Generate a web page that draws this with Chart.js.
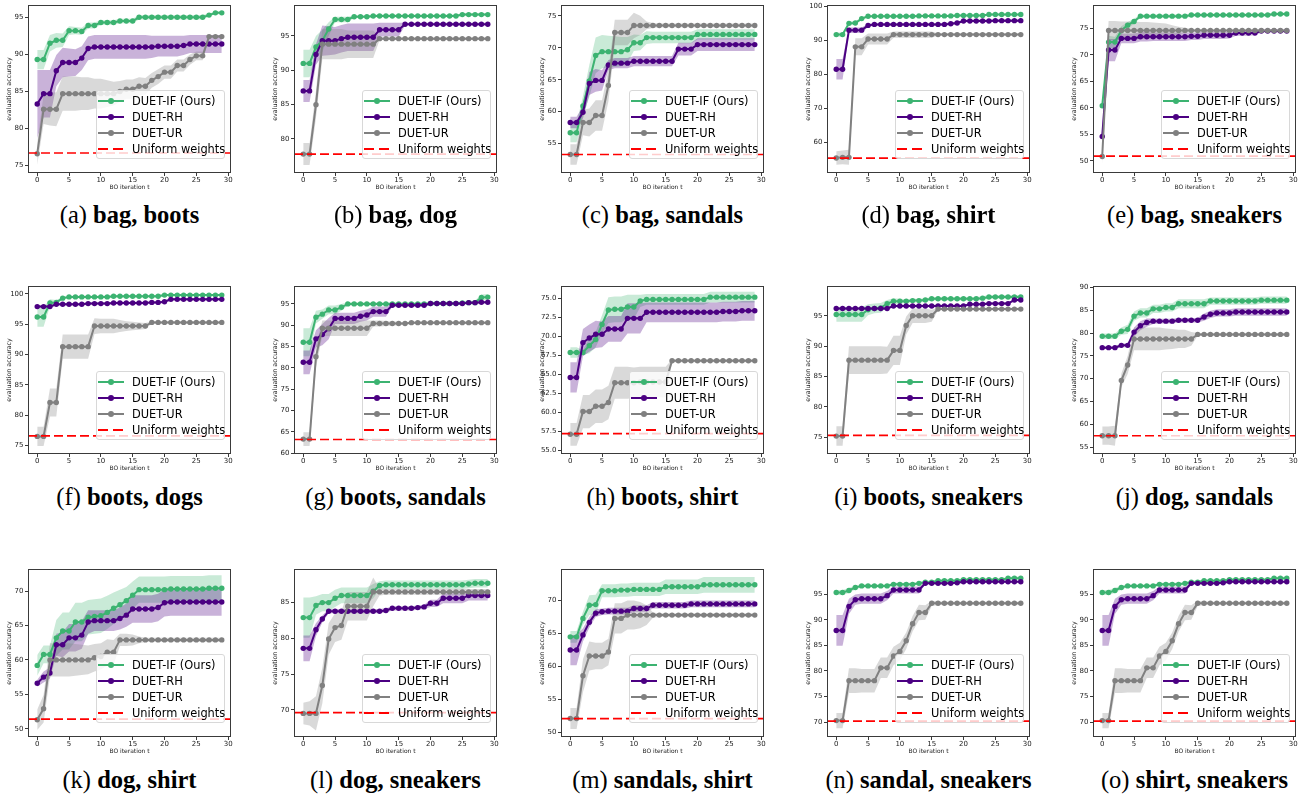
<!DOCTYPE html>
<html><head><meta charset="utf-8">
<script src="https://cdn.jsdelivr.net/npm/chart.js@4.4.0/dist/chart.umd.min.js"></script>
<style>
body{margin:0;background:#fff;width:1300px;height:795px;position:relative;overflow:hidden;font-family:'DejaVu Sans',sans-serif;}
canvas{position:absolute;}
.cap{position:absolute;font-family:'Liberation Serif',serif;font-size:24.5px;line-height:30px;white-space:nowrap;transform:translateX(-50%);color:#000;}
.cap b{font-weight:bold;}
.leg{position:absolute;width:129px;height:69px;border:1px solid #d8d8d8;border-radius:3px;background:rgba(255,255,255,0.8);box-sizing:border-box;font-family:'DejaVu Sans',sans-serif;font-size:11.4px;color:#000;}
.leg .row{position:absolute;left:1px;height:16px;display:flex;align-items:center;white-space:nowrap;}
.leg svg{margin-right:8px;display:block;}
</style></head><body>
<script>
// ---------- data ----------
const iters = [0,1,2,3,4,5,6,7,8,9,10,11,12,13,14,15,16,17,18,19,20,21,22,23,24,25,26,27,28,29];
const xTicks = [0,5,10,15,20,25,30];

// (a) bag, boots
const a_IF = [89.3,89.3,91.5,91.9,91.9,93.2,93.2,93.1,93.9,93.9,94.3,94.3,94.3,94.5,94.5,94.5,95.0,95.0,95.0,95.0,95.0,95.0,95.0,95.0,95.0,95.0,95.0,95.3,95.6,95.6];
const a_IF_sd = [1.3,1.3,1.1,1.0,0.9,0.6,0.5,0.5,0.4,0.4,0.3,0.3,0.3,0.3,0.3,0.3,0.3,0.3,0.3,0.3,0.3,0.3,0.3,0.3,0.3,0.3,0.3,0.2,0.2,0.2];
const a_RH = [83.3,84.7,84.7,87.8,88.9,88.9,88.9,89.5,90.8,91.0,91.0,91.0,91.0,91.0,91.0,91.0,91.0,91.0,91.0,91.1,91.1,91.1,91.1,91.2,91.4,91.4,91.4,91.4,91.4,91.4];
const a_RH_sd = [4.6,3.2,3.2,2.1,2.0,1.9,1.8,1.6,1.6,1.6,1.6,1.6,1.6,1.6,1.6,1.6,1.6,1.6,1.5,1.4,1.4,1.4,1.4,1.3,1.2,1.2,1.2,1.2,1.2,1.2];
const a_UR = [76.6,82.6,82.6,82.6,84.7,84.7,84.7,84.7,84.7,84.7,84.7,84.7,84.7,85.0,85.3,85.3,85.7,85.7,86.5,87.0,87.6,87.6,88.5,88.5,89.3,89.8,89.8,92.4,92.4,92.4];
const a_UR_sd = [1.5,2.0,2.2,2.3,2.3,2.3,2.3,2.2,2.2,2.0,2.0,1.8,1.6,1.4,1.3,1.3,1.2,1.1,1.0,1.0,0.9,0.9,0.8,0.8,0.7,0.6,0.6,0.2,0.2,0.2];
const a_uni = 76.7, a_range = [74.0,96.66], a_ticks = [75,80,85,90,95];

// (b) bag, dog
const b_IF = [91.0,91.0,93.4,94.3,96.0,97.4,97.4,97.4,97.8,97.8,97.8,97.9,97.9,97.9,97.9,97.9,97.9,97.9,97.9,97.9,97.9,97.9,97.9,97.9,97.9,98.1,98.1,98.1,98.1,98.1];
const b_IF_sd = [2.0,2.0,1.6,1.6,1.0,0.4,0.4,0.4,0.2,0.2,0.2,0.2,0.2,0.2,0.2,0.2,0.2,0.2,0.2,0.2,0.2,0.2,0.2,0.2,0.2,0.2,0.2,0.2,0.2,0.2];
const b_RH = [87.0,87.0,92.3,94.3,94.3,94.3,94.6,94.8,94.8,94.8,94.8,94.8,95.9,95.9,95.9,95.9,96.7,96.7,96.7,96.7,96.7,96.7,96.7,96.7,96.7,96.7,96.7,96.7,96.7,96.7];
const b_RH_sd = [1.6,1.6,1.5,2.2,2.1,2.0,2.0,2.0,2.0,2.0,2.0,2.0,1.0,1.0,1.0,1.0,0.2,0.2,0.2,0.2,0.2,0.2,0.2,0.2,0.2,0.2,0.2,0.2,0.2,0.2];
const b_UR = [77.8,77.8,85.0,93.8,93.8,93.8,93.8,93.8,93.8,93.8,93.8,93.8,94.6,94.6,94.6,94.6,94.6,94.6,94.6,94.6,94.6,94.6,94.6,94.6,94.6,94.6,94.6,94.6,94.6,94.6];
const b_UR_sd = [1.6,1.6,2.0,2.2,2.2,2.2,2.2,2.0,2.0,2.0,2.0,2.0,0.2,0.2,0.2,0.2,0.2,0.2,0.2,0.2,0.2,0.2,0.2,0.2,0.2,0.2,0.2,0.2,0.2,0.2];
const b_uni = 77.8, b_range = [75.05,99.5], b_ticks = [80,85,90,95];

// (c) bag, sandals
const c_IF = [56.7,56.7,60.9,64.8,68.8,69.4,69.4,69.4,69.4,69.7,70.8,70.8,71.6,71.6,71.6,71.6,71.6,71.6,71.6,71.6,72.1,72.1,72.1,72.1,72.1,72.1,72.1,72.1,72.1,72.1];
const c_IF_sd = [1.5,1.5,1.5,2.5,2.8,2.6,2.5,2.4,2.3,2.0,1.3,1.2,1.0,0.9,0.9,0.9,0.9,0.9,0.9,0.9,0.8,0.8,0.8,0.8,0.8,0.8,0.8,0.8,0.8,0.8];
const c_RH = [58.3,58.3,59.9,64.4,64.9,64.9,67.3,67.6,67.6,67.6,67.9,67.9,67.9,67.9,67.9,67.9,67.9,69.8,69.8,69.8,70.5,70.5,70.5,70.5,70.5,70.5,70.5,70.5,70.5,70.5];
const c_RH_sd = [0.9,0.9,1.0,1.8,1.8,1.6,0.8,0.8,0.8,0.8,0.8,0.8,0.8,0.8,0.8,0.8,0.8,1.0,1.0,1.0,1.0,1.0,1.0,1.0,1.0,1.0,1.0,1.0,1.0,1.0];
const c_UR = [53.3,53.3,58.3,58.3,59.4,59.4,64.1,72.4,72.4,72.4,73.5,73.5,73.5,73.5,73.5,73.5,73.5,73.5,73.5,73.5,73.5,73.5,73.5,73.5,73.5,73.5,73.5,73.5,73.5,73.5];
const c_UR_sd = [1.6,1.6,2.0,2.2,2.4,2.4,2.5,2.0,2.0,2.0,2.0,1.5,0.6,0.4,0.3,0.3,0.3,0.3,0.3,0.3,0.3,0.3,0.3,0.3,0.3,0.3,0.3,0.3,0.3,0.3];
const c_uni = 53.3, c_range = [50.4,76.7], c_ticks = [55,60,65,70,75];

// (d) bag, shirt
const d_IF = [91.6,91.6,94.9,95.0,96.3,97.0,97.0,97.0,97.0,97.0,97.0,97.0,97.0,97.1,97.1,97.1,97.1,97.1,97.1,97.2,97.2,97.2,97.2,97.2,97.5,97.5,97.5,97.5,97.5,97.5];
const d_IF_sd = [0.6,0.6,0.6,0.5,0.4,0.3,0.3,0.3,0.3,0.3,0.3,0.3,0.3,0.3,0.3,0.3,0.3,0.3,0.3,0.3,0.3,0.3,0.3,0.3,0.3,0.3,0.3,0.3,0.3,0.3];
const d_RH = [81.4,81.4,92.9,92.9,92.9,94.3,94.6,94.6,94.6,94.6,94.6,94.6,94.6,94.6,94.6,94.6,94.6,94.6,94.8,95.0,95.6,95.6,95.6,95.6,95.6,95.7,95.7,95.7,95.7,95.7];
const d_RH_sd = [3.0,3.0,0.8,0.8,0.8,0.5,0.4,0.4,0.4,0.4,0.4,0.4,0.4,0.4,0.4,0.4,0.4,0.4,0.4,0.4,0.4,0.4,0.4,0.4,0.4,0.4,0.4,0.4,0.4,0.4];
const d_UR = [55.3,55.5,55.5,88.0,88.0,90.3,90.3,90.3,90.3,91.6,91.6,91.6,91.6,91.6,91.6,91.6,91.6,91.6,91.6,91.6,91.6,91.6,91.6,91.6,91.6,91.6,91.6,91.6,91.6,91.6];
const d_UR_sd = [2.0,2.0,2.2,2.5,2.5,1.6,1.6,1.6,1.6,0.9,0.9,0.9,0.9,0.9,0.9,0.9,0.3,0.3,0.3,0.3,0.3,0.3,0.3,0.3,0.3,0.3,0.3,0.3,0.3,0.3];
const d_uni = 55.3, d_range = [50.9,100.3], d_ticks = [60,70,80,90,100];

// (e) bag, sneakers
const e_IF = [60.4,72.4,72.4,74.6,75.6,76.3,77.3,77.3,77.3,77.3,77.3,77.3,77.3,77.3,77.5,77.5,77.5,77.5,77.5,77.5,77.5,77.5,77.5,77.5,77.5,77.5,77.5,77.7,77.7,77.7];
const e_IF_sd = [0.6,1.2,1.0,0.8,0.6,0.5,0.3,0.3,0.3,0.3,0.3,0.3,0.3,0.3,0.3,0.3,0.3,0.3,0.3,0.3,0.3,0.3,0.3,0.3,0.3,0.3,0.3,0.3,0.3,0.3];
const e_RH = [54.6,70.9,70.9,73.1,73.1,73.1,73.4,73.4,73.4,73.4,73.4,73.4,73.4,73.4,73.5,73.5,73.7,73.7,73.7,73.7,73.7,74.1,74.1,74.1,74.1,74.5,74.5,74.5,74.5,74.5];
const e_RH_sd = [0.8,2.1,2.1,0.9,0.9,0.9,0.9,0.9,0.8,0.8,0.8,0.8,0.8,0.8,0.7,0.7,0.7,0.7,0.7,0.7,0.6,0.5,0.5,0.5,0.4,0.3,0.3,0.3,0.3,0.3];
const e_UR = [50.8,74.6,74.6,74.6,74.6,74.6,74.6,74.6,74.6,74.6,74.6,74.6,74.6,74.6,74.6,74.6,74.6,74.6,74.6,74.6,74.6,74.6,74.6,74.6,74.6,74.6,74.6,74.6,74.6,74.6];
const e_UR_sd = [1.4,1.8,1.8,1.7,1.7,1.7,1.6,1.6,1.5,1.4,1.3,1.0,0.7,0.5,0.3,0.2,0.2,0.2,0.2,0.2,0.2,0.2,0.2,0.2,0.2,0.2,0.2,0.2,0.2,0.2];
const e_uni = 50.9, e_range = [47.7,79.4], e_ticks = [50,55,60,65,70,75];

// (f) boots, dogs
const f_IF = [96.2,96.2,98.5,98.6,99.3,99.5,99.5,99.5,99.5,99.5,99.5,99.5,99.6,99.6,99.6,99.6,99.6,99.6,99.6,99.6,99.8,99.8,99.8,99.8,99.8,99.8,99.8,99.8,99.8,99.8];
const f_IF_sd = [1.6,1.6,0.6,0.4,0.2,0.2,0.2,0.2,0.2,0.2,0.2,0.2,0.2,0.2,0.2,0.2,0.2,0.2,0.2,0.2,0.2,0.2,0.2,0.2,0.2,0.2,0.2,0.2,0.2,0.2];
const f_RH = [97.9,97.9,97.9,98.3,98.3,98.3,98.3,98.3,98.4,98.4,98.4,98.4,98.5,98.5,98.5,98.5,98.5,98.5,98.6,98.6,98.7,99.1,99.1,99.1,99.1,99.1,99.1,99.1,99.1,99.1];
const f_RH_sd = [0.2,0.2,0.2,0.2,0.2,0.2,0.2,0.2,0.2,0.2,0.2,0.2,0.2,0.2,0.2,0.2,0.2,0.2,0.2,0.2,0.2,0.2,0.2,0.2,0.2,0.2,0.2,0.2,0.2,0.2];
const f_UR = [76.5,76.5,82.1,82.1,91.3,91.3,91.3,91.3,91.3,94.7,94.7,94.7,94.7,94.7,94.7,94.7,94.7,94.7,95.3,95.3,95.3,95.3,95.3,95.3,95.3,95.3,95.3,95.3,95.3,95.3];
const f_UR_sd = [1.6,1.6,2.3,2.3,2.0,2.0,2.0,2.0,2.0,1.3,1.2,1.2,1.2,1.0,0.8,0.7,0.6,0.5,0.2,0.2,0.2,0.2,0.2,0.2,0.2,0.2,0.2,0.2,0.2,0.2];
const f_uni = 76.6, f_range = [73.6,101.3], f_ticks = [75,80,85,90,95,100];

// (g) boots, sandals
const g_IF = [86.0,86.0,91.9,92.6,93.6,93.6,94.2,95.0,95.0,95.0,95.0,95.0,95.0,95.0,95.0,95.0,95.0,95.0,95.0,95.0,95.1,95.1,95.1,95.1,95.1,95.2,95.3,95.3,96.5,96.6];
const g_IF_sd = [3.3,3.3,1.5,1.1,1.0,1.0,0.8,0.4,0.4,0.4,0.4,0.4,0.4,0.4,0.4,0.4,0.4,0.4,0.4,0.4,0.4,0.4,0.4,0.4,0.4,0.4,0.4,0.5,0.7,0.7];
const g_RH = [81.3,81.3,86.8,87.8,89.2,91.6,91.6,91.6,91.6,92.1,92.4,93.2,93.2,93.2,94.7,94.7,94.7,94.7,94.7,94.7,95.1,95.1,95.1,95.1,95.1,95.1,95.3,95.3,95.4,95.4];
const g_RH_sd = [2.8,2.8,2.0,2.5,2.5,1.3,1.3,1.3,1.3,1.3,1.3,1.2,1.2,1.2,0.3,0.3,0.3,0.3,0.3,0.3,0.3,0.3,0.3,0.3,0.3,0.3,0.3,0.3,0.3,0.3];
const g_UR = [63.3,63.3,82.6,89.3,89.3,89.3,89.3,89.3,89.3,89.3,89.3,90.4,90.4,90.4,90.4,90.4,90.4,90.6,90.6,90.6,90.6,90.6,90.6,90.6,90.6,90.6,90.6,90.6,90.6,90.6];
const g_UR_sd = [1.6,1.6,2.5,1.8,1.8,1.8,1.8,1.8,1.8,1.8,1.8,0.7,0.7,0.6,0.5,0.4,0.3,0.3,0.3,0.3,0.3,0.3,0.3,0.3,0.3,0.3,0.3,0.3,0.3,0.3];
const g_uni = 63.2, g_range = [59.8,99.2], g_ticks = [60,65,70,75,80,85,90,95];

// (h) boots, shirt
const h_IF = [67.9,67.9,67.9,68.8,69.6,71.6,73.5,73.6,73.6,73.9,73.9,74.7,74.9,74.9,74.9,74.9,74.9,74.9,74.9,74.9,74.9,74.9,75.2,75.2,75.2,75.2,75.2,75.2,75.2,75.2];
const h_IF_sd = [0.7,0.7,0.3,1.0,1.0,1.2,1.7,1.7,1.7,1.6,1.6,0.8,0.7,0.7,0.7,0.7,0.7,0.7,0.7,0.7,0.7,0.7,0.7,0.7,0.7,0.7,0.7,0.7,0.7,0.7];
const h_RH = [64.6,64.6,69.2,69.8,70.3,70.3,71.0,71.0,71.0,72.4,72.4,72.4,73.2,73.2,73.2,73.2,73.2,73.2,73.2,73.2,73.2,73.2,73.2,73.2,73.3,73.3,73.3,73.4,73.4,73.4];
const h_RH_sd = [2.0,2.0,1.8,1.8,1.8,1.7,1.7,1.7,1.7,2.0,2.0,2.0,1.3,1.3,1.3,1.3,1.3,1.3,1.3,1.3,1.3,1.3,1.3,1.3,1.3,1.3,1.3,1.3,1.3,1.3];
const h_UR = [57.1,57.1,60.1,60.1,60.8,60.8,61.3,63.9,63.9,63.9,63.9,64.0,64.0,64.0,64.0,64.0,66.8,66.8,66.8,66.8,66.8,66.8,66.8,66.8,66.8,66.8,66.8,66.8,66.8,66.8];
const h_UR_sd = [1.5,1.5,2.2,2.2,2.2,2.2,2.2,2.1,2.1,2.1,2.0,2.0,2.0,2.0,2.0,2.0,0.2,0.2,0.2,0.2,0.2,0.2,0.2,0.2,0.2,0.2,0.2,0.2,0.2,0.2];
const h_uni = 57.2, h_range = [54.5,76.67], h_ticks = [55,57.5,60,62.5,65,67.5,70,72.5,75];

// (i) boots, sneakers
const i_IF = [95.2,95.2,95.2,95.2,95.2,96.0,96.2,96.3,97.0,97.4,97.4,97.4,97.5,97.5,97.6,97.8,97.8,97.8,97.8,97.8,97.8,97.8,97.8,97.9,98.1,98.1,98.1,98.1,98.1,98.1];
const i_IF_sd = [1.2,1.2,1.2,1.2,1.2,0.9,0.8,0.8,0.6,0.5,0.4,0.3,0.3,0.3,0.3,0.3,0.3,0.3,0.3,0.3,0.3,0.3,0.3,0.3,0.3,0.3,0.3,0.3,0.3,0.3];
const i_RH = [96.2,96.2,96.2,96.2,96.2,96.2,96.2,96.2,96.2,96.6,96.6,96.6,96.6,96.6,96.6,96.6,96.6,96.6,96.6,96.6,96.6,96.9,96.9,96.9,97.0,97.0,97.0,97.0,97.6,97.6];
const i_RH_sd = [0.2,0.2,0.2,0.2,0.2,0.2,0.2,0.2,0.2,0.2,0.2,0.2,0.2,0.2,0.2,0.2,0.2,0.2,0.2,0.2,0.2,0.2,0.2,0.2,0.2,0.2,0.2,0.2,0.2,0.2];
const i_UR = [75.2,75.2,87.7,87.7,87.7,87.7,87.7,87.7,87.7,89.3,89.3,93.4,95.0,95.0,95.0,95.0,96.1,96.1,96.1,96.1,96.1,96.1,96.1,96.1,96.1,96.1,96.1,96.1,96.1,96.1];
const i_UR_sd = [1.6,1.6,2.3,2.3,2.3,2.3,2.3,2.3,2.2,2.4,2.4,1.5,1.2,1.2,1.2,1.0,0.2,0.2,0.2,0.2,0.2,0.2,0.2,0.2,0.2,0.2,0.2,0.2,0.2,0.2];
const i_uni = 75.3, i_range = [72.25,99.9], i_ticks = [75,80,85,90,95];

// (j) dog, sandals
const j_IF = [79.3,79.3,79.3,80.4,80.8,83.7,84.4,84.4,85.3,85.3,85.6,85.6,86.4,86.4,86.4,86.4,86.4,87.0,87.0,87.0,87.0,87.0,87.0,87.0,87.0,87.2,87.2,87.2,87.2,87.2];
const j_IF_sd = [0.6,0.6,0.6,0.8,1.0,1.0,1.0,1.0,0.9,0.9,0.9,0.9,1.0,1.0,1.0,1.0,1.0,0.8,0.8,0.8,0.8,0.8,0.8,0.8,0.8,0.8,0.8,0.8,0.8,0.8];
const j_RH = [76.8,76.8,76.8,77.3,77.3,80.2,81.6,82.3,82.6,82.6,82.6,82.6,82.8,82.8,82.8,82.8,83.5,84.1,84.4,84.4,84.4,84.6,84.6,84.6,84.6,84.6,84.6,84.6,84.6,84.6];
const j_RH_sd = [0.3,0.3,0.3,0.4,0.4,1.0,1.0,0.9,0.6,0.5,0.5,0.5,0.5,0.5,0.5,0.5,0.8,0.8,0.8,0.8,0.8,0.8,0.8,0.8,0.8,0.8,0.8,0.8,0.8,0.8];
const j_UR = [57.5,57.5,57.5,69.6,73.0,78.7,78.7,78.7,78.7,78.7,78.7,78.7,78.7,78.7,78.7,79.7,79.7,79.7,79.7,79.7,79.7,79.7,79.7,79.7,79.7,79.7,79.7,79.7,79.7,79.7];
const j_UR_sd = [2.0,2.0,2.2,1.5,2.0,2.5,2.5,2.5,2.5,2.5,2.3,2.2,2.0,2.0,1.5,0.3,0.3,0.3,0.3,0.3,0.3,0.3,0.3,0.3,0.3,0.3,0.3,0.3,0.3,0.3];
const j_uni = 57.5, j_range = [53.5,90.3], j_ticks = [55,60,65,70,75,80,85,90];

// (k) dog, shirt
const k_IF = [59.2,60.8,60.8,63.2,64.2,64.2,65.5,65.5,66.2,66.3,66.4,66.9,67.5,68.0,68.6,69.4,70.2,70.2,70.2,70.2,70.2,70.3,70.3,70.3,70.3,70.3,70.3,70.4,70.4,70.4];
const k_IF_sd = [1.5,1.3,1.3,2.6,2.7,2.7,2.8,2.8,2.5,2.5,2.5,2.4,2.3,2.2,2.0,2.0,1.9,1.9,1.9,1.9,1.9,1.9,1.9,1.9,1.9,1.9,1.9,1.9,1.9,1.9];
const k_RH = [56.6,57.5,58.1,62.2,62.2,63.2,63.2,63.6,65.5,65.7,65.7,65.7,65.7,66.0,66.5,67.4,67.4,67.4,67.4,67.6,68.3,68.4,68.4,68.4,68.4,68.4,68.4,68.4,68.4,68.4];
const k_RH_sd = [0.5,0.8,0.8,1.6,1.8,2.0,2.0,2.0,1.7,1.5,1.5,1.5,1.5,1.6,1.7,2.0,2.0,2.0,2.0,2.0,2.0,2.0,2.0,2.0,2.0,2.0,2.0,2.0,2.0,2.0];
const k_UR = [51.3,52.9,60.0,60.0,60.0,60.0,60.0,60.0,60.0,60.3,60.5,61.1,61.1,62.9,62.9,62.9,62.9,62.9,62.9,62.9,62.9,62.9,62.9,62.9,62.9,62.9,62.9,62.9,62.9,62.9];
const k_UR_sd = [1.5,2.0,2.4,2.4,2.4,2.4,2.3,2.2,2.1,2.0,1.9,1.9,1.8,0.9,0.9,0.8,0.5,0.3,0.3,0.3,0.3,0.3,0.3,0.3,0.3,0.3,0.3,0.3,0.3,0.3];
const k_uni = 51.4, k_range = [48.8,73.2], k_ticks = [50,55,60,65,70];

// (l) dog, sneakers
const l_IF = [82.9,82.9,84.6,85.0,85.0,85.6,86.0,86.0,86.0,86.0,86.0,86.6,87.4,87.5,87.5,87.5,87.5,87.5,87.5,87.5,87.5,87.5,87.5,87.5,87.5,87.5,87.6,87.7,87.7,87.7];
const l_IF_sd = [2.8,2.8,1.3,1.2,1.2,1.2,1.1,1.1,1.1,1.1,1.1,1.0,0.6,0.6,0.6,0.6,0.6,0.6,0.6,0.6,0.6,0.6,0.6,0.6,0.6,0.6,0.6,0.6,0.6,0.6];
const l_RH = [78.6,78.6,81.2,82.7,83.8,83.8,83.8,83.8,83.8,83.8,83.8,83.8,83.8,83.9,84.2,84.2,84.2,84.2,84.3,84.4,84.9,84.9,85.6,85.6,85.6,85.6,86.0,86.0,86.0,86.0];
const l_RH_sd = [1.8,1.8,0.9,0.5,0.3,0.3,0.3,0.3,0.3,0.3,0.3,0.3,0.3,0.3,0.3,0.3,0.3,0.3,0.3,0.3,0.5,0.5,0.7,0.7,0.7,0.7,0.7,0.7,0.7,0.7];
const l_UR = [69.5,69.5,69.5,73.4,79.9,81.5,81.8,84.5,84.5,84.5,84.5,86.5,86.5,86.5,86.5,86.5,86.5,86.5,86.5,86.5,86.5,86.5,86.5,86.5,86.5,86.5,86.5,86.5,86.5,86.5];
const l_UR_sd = [1.5,1.7,2.4,2.5,2.2,2.0,2.0,2.0,2.0,2.0,2.0,2.0,0.5,0.4,0.4,0.4,0.4,0.4,0.4,0.4,0.4,0.4,0.4,0.4,0.4,0.4,0.4,0.4,0.4,0.4];
const l_uni = 69.6, l_range = [66.2,89.7], l_ticks = [70,75,80,85];

// (m) sandals, shirt
const m_IF = [64.5,64.5,67.3,69.3,69.4,71.5,71.5,71.5,71.6,71.6,71.7,71.7,71.7,71.7,71.7,72.1,72.1,72.1,72.1,72.1,72.1,72.4,72.4,72.4,72.4,72.4,72.4,72.4,72.4,72.4];
const m_IF_sd = [0.9,0.9,1.0,1.5,1.5,1.0,1.0,1.0,1.0,1.0,1.0,1.0,1.0,1.0,1.0,1.1,1.1,1.1,1.1,1.1,1.1,1.2,1.2,1.2,1.2,1.2,1.2,1.2,1.2,1.2];
const m_RH = [62.5,62.5,64.8,66.7,68.1,68.3,68.4,68.4,68.4,68.4,68.8,68.8,68.8,69.3,69.3,69.3,69.3,69.3,69.3,69.5,69.5,69.5,69.5,69.5,69.5,69.5,69.5,69.5,69.5,69.5];
const m_RH_sd = [2.3,2.3,1.0,0.8,0.6,0.5,0.5,0.5,0.5,0.5,0.5,0.5,0.5,0.5,0.5,0.5,0.5,0.5,0.5,0.5,0.5,0.5,0.5,0.5,0.5,0.5,0.5,0.5,0.5,0.5];
const m_UR = [52.1,52.1,58.6,61.6,61.6,61.6,62.2,67.3,67.3,67.8,67.8,67.8,67.8,67.8,67.8,67.8,67.8,67.8,67.8,67.8,67.8,67.8,67.8,67.8,67.8,67.8,67.8,67.8,67.8,67.8];
const m_UR_sd = [1.6,1.6,2.5,2.2,2.0,2.0,2.0,2.3,2.3,2.2,2.2,2.0,1.5,0.4,0.3,0.3,0.3,0.3,0.3,0.3,0.3,0.3,0.3,0.3,0.3,0.3,0.3,0.3,0.3,0.3];
const m_uni = 52.1, m_range = [49.3,74.8], m_ticks = [50,55,60,65,70];

// (n) sandal, sneakers
const n_IF = [95.3,95.3,95.7,96.3,96.6,96.6,96.6,96.6,96.6,96.9,96.9,96.9,96.9,97.1,97.3,97.3,97.6,97.6,97.6,97.6,97.8,97.8,97.8,97.8,97.8,97.8,97.8,98.1,98.1,98.1];
const n_IF_sd = [0.5,0.5,0.5,0.4,0.3,0.3,0.3,0.3,0.3,0.3,0.3,0.3,0.3,0.3,0.3,0.3,0.3,0.3,0.3,0.3,0.3,0.3,0.3,0.3,0.3,0.3,0.3,0.3,0.3,0.3];
const n_RH = [87.9,87.9,92.6,93.9,94.1,94.1,94.1,94.1,94.7,95.8,95.8,95.8,95.8,95.8,97.1,97.1,97.1,97.1,97.1,97.2,97.4,97.4,97.4,97.4,97.4,97.4,97.4,97.4,97.4,97.4];
const n_RH_sd = [3.0,3.0,1.5,1.0,1.0,1.0,1.0,1.0,0.9,0.7,0.7,0.7,0.7,0.7,0.2,0.2,0.2,0.2,0.2,0.2,0.2,0.2,0.2,0.2,0.2,0.2,0.2,0.2,0.2,0.2];
const n_UR = [70.3,70.3,78.1,78.1,78.1,78.1,78.1,80.6,80.6,82.9,83.8,85.9,89.2,91.4,91.4,93.2,93.2,93.2,93.2,93.2,93.2,93.2,93.2,93.2,93.2,93.2,93.2,93.2,93.2,93.2];
const n_UR_sd = [1.5,1.5,2.4,2.4,2.3,2.3,2.3,2.0,2.0,1.8,1.7,1.6,1.5,1.5,1.4,0.5,0.4,0.3,0.3,0.3,0.3,0.3,0.3,0.3,0.3,0.3,0.3,0.3,0.3,0.3];
const n_uni = 70.2, n_range = [67.1,99.9], n_ticks = [70,75,80,85,90,95];

// (o) shirt, sneakers
const o_IF = [95.3,95.3,95.7,96.3,96.6,96.6,96.6,96.6,96.6,96.9,96.9,96.9,96.9,97.1,97.3,97.3,97.6,97.6,97.6,97.6,97.8,97.8,97.8,97.8,97.8,97.8,97.8,98.1,98.1,98.1];
const o_IF_sd = [0.5,0.5,0.5,0.4,0.3,0.3,0.3,0.3,0.3,0.3,0.3,0.3,0.3,0.3,0.3,0.3,0.3,0.3,0.3,0.3,0.3,0.3,0.3,0.3,0.3,0.3,0.3,0.3,0.3,0.3];
const o_RH = [87.9,87.9,92.6,93.9,94.1,94.1,94.1,94.1,94.7,95.8,95.8,95.8,95.8,95.8,97.1,97.1,97.1,97.1,97.1,97.2,97.4,97.4,97.4,97.4,97.4,97.4,97.4,97.4,97.4,97.4];
const o_RH_sd = [3.0,3.0,1.5,1.0,1.0,1.0,1.0,1.0,0.9,0.7,0.7,0.7,0.7,0.7,0.2,0.2,0.2,0.2,0.2,0.2,0.2,0.2,0.2,0.2,0.2,0.2,0.2,0.2,0.2,0.2];
const o_UR = [70.3,70.3,78.1,78.1,78.1,78.1,78.1,80.6,80.6,82.9,83.8,85.9,89.2,91.4,91.4,93.2,93.2,93.2,93.2,93.2,93.2,93.2,93.2,93.2,93.2,93.2,93.2,93.2,93.2,93.2];
const o_UR_sd = [1.5,1.5,2.4,2.4,2.3,2.3,2.3,2.0,2.0,1.8,1.7,1.6,1.5,1.5,1.4,0.5,0.4,0.3,0.3,0.3,0.3,0.3,0.3,0.3,0.3,0.3,0.3,0.3,0.3,0.3];
const o_uni = 70.2, o_range = [67.1,99.9], o_ticks = [70,75,80,85,90,95];

const captions = [
  ['(a)','bag, boots'],['(b)','bag, dog'],['(c)','bag, sandals'],['(d)','bag, shirt'],['(e)','bag, sneakers'],
  ['(f)','boots, dogs'],['(g)','boots, sandals'],['(h)','boots, shirt'],['(i)','boots, sneakers'],['(j)','dog, sandals'],
  ['(k)','dog, shirt'],['(l)','dog, sneakers'],['(m)','sandals, shirt'],['(n)','sandal, sneakers'],['(o)','shirt, sneakers']
];
const seriesNames = ['DUET-IF (Ours)','DUET-RH','DUET-UR','Uniform weights'];

// ---------- layout & style ----------
const COL_LEFT = [28,294,561,827,1093], ROW_TOP = [5,286,569], PW = 203, PH = 168;
const CAP_Y = [200,482,765];
const C_IF = '#3cb371', C_RH = '#4b0082', C_UR = '#808080', C_UNI = '#ff0000';
const BAND = {IF:'rgba(60,179,113,0.28)', RH:'rgba(75,0,130,0.3)', UR:'rgba(128,128,128,0.3)'};
const panels = [
  {IF:a_IF,IFsd:a_IF_sd,RH:a_RH,RHsd:a_RH_sd,UR:a_UR,URsd:a_UR_sd,uni:a_uni,range:a_range,ticks:a_ticks},
  {IF:b_IF,IFsd:b_IF_sd,RH:b_RH,RHsd:b_RH_sd,UR:b_UR,URsd:b_UR_sd,uni:b_uni,range:b_range,ticks:b_ticks},
  {IF:c_IF,IFsd:c_IF_sd,RH:c_RH,RHsd:c_RH_sd,UR:c_UR,URsd:c_UR_sd,uni:c_uni,range:c_range,ticks:c_ticks},
  {IF:d_IF,IFsd:d_IF_sd,RH:d_RH,RHsd:d_RH_sd,UR:d_UR,URsd:d_UR_sd,uni:d_uni,range:d_range,ticks:d_ticks},
  {IF:e_IF,IFsd:e_IF_sd,RH:e_RH,RHsd:e_RH_sd,UR:e_UR,URsd:e_UR_sd,uni:e_uni,range:e_range,ticks:e_ticks},
  {IF:f_IF,IFsd:f_IF_sd,RH:f_RH,RHsd:f_RH_sd,UR:f_UR,URsd:f_UR_sd,uni:f_uni,range:f_range,ticks:f_ticks},
  {IF:g_IF,IFsd:g_IF_sd,RH:g_RH,RHsd:g_RH_sd,UR:g_UR,URsd:g_UR_sd,uni:g_uni,range:g_range,ticks:g_ticks},
  {IF:h_IF,IFsd:h_IF_sd,RH:h_RH,RHsd:h_RH_sd,UR:h_UR,URsd:h_UR_sd,uni:h_uni,range:h_range,ticks:h_ticks,dec:1},
  {IF:i_IF,IFsd:i_IF_sd,RH:i_RH,RHsd:i_RH_sd,UR:i_UR,URsd:i_UR_sd,uni:i_uni,range:i_range,ticks:i_ticks},
  {IF:j_IF,IFsd:j_IF_sd,RH:j_RH,RHsd:j_RH_sd,UR:j_UR,URsd:j_UR_sd,uni:j_uni,range:j_range,ticks:j_ticks},
  {IF:k_IF,IFsd:k_IF_sd,RH:k_RH,RHsd:k_RH_sd,UR:k_UR,URsd:k_UR_sd,uni:k_uni,range:k_range,ticks:k_ticks},
  {IF:l_IF,IFsd:l_IF_sd,RH:l_RH,RHsd:l_RH_sd,UR:l_UR,URsd:l_UR_sd,uni:l_uni,range:l_range,ticks:l_ticks},
  {IF:m_IF,IFsd:m_IF_sd,RH:m_RH,RHsd:m_RH_sd,UR:m_UR,URsd:m_UR_sd,uni:m_uni,range:m_range,ticks:m_ticks},
  {IF:n_IF,IFsd:n_IF_sd,RH:n_RH,RHsd:n_RH_sd,UR:n_UR,URsd:n_UR_sd,uni:n_uni,range:n_range,ticks:n_ticks},
  {IF:o_IF,IFsd:o_IF_sd,RH:o_RH,RHsd:o_RH_sd,UR:o_UR,URsd:o_UR_sd,uni:o_uni,range:o_range,ticks:o_ticks}
];

const XMIN = -1.45, XMAX = 30.45;
const YW = 24, XH = 20, PADT = 6, PADR = 8;

const framePlugin = {
  id:'frame',
  afterDraw(chart){
    const {ctx, chartArea:a} = chart;
    ctx.save();
    ctx.strokeStyle = '#3a3a3a'; ctx.lineWidth = 1;
    ctx.strokeRect(Math.round(a.left)+0.5, Math.round(a.top)+0.5, Math.round(a.right-a.left)-1, Math.round(a.bottom-a.top)-1);
    ctx.restore();
  }
};

function pts(vals){ return vals.map((v,i)=>({x:iters[i], y:v})); }
function band(vals, sd, sign){ return vals.map((v,i)=>({x:iters[i], y:v + sign*sd[i]})); }

function lineDs(label, vals, color, order){
  return {label, data:pts(vals), borderColor:color, backgroundColor:color, borderWidth:2,
    pointRadius:2.7, pointBackgroundColor:color, pointBorderWidth:0, pointHoverRadius:0, tension:0, fill:false, order};
}
function upperDs(vals, sd, color, order){
  return {data:band(vals, sd, 1), borderWidth:0, pointRadius:0, fill:'+1', backgroundColor:color, borderColor:'rgba(0,0,0,0)', tension:0, order};
}
function lowerDs(vals, sd, order){
  return {data:band(vals, sd, -1), borderWidth:0, pointRadius:0, fill:false, borderColor:'rgba(0,0,0,0)', tension:0, order};
}

function legendSVG(color, dashed){
  if (dashed) return `<svg width="26" height="10"><line x1="0" y1="5" x2="26" y2="5" stroke="${color}" stroke-width="2" stroke-dasharray="10,5"/></svg>`;
  return `<svg width="26" height="10"><line x1="0" y1="5" x2="26" y2="5" stroke="${color}" stroke-width="2"/><circle cx="13" cy="5" r="3" fill="${color}"/></svg>`;
}

panels.forEach((p, idx) => {
  const col = idx % 5, row = Math.floor(idx / 5);
  const pl = COL_LEFT[col], pt = ROW_TOP[row];
  const W = PW + YW + PADR, H = PH + PADT + XH;
  const cv = document.createElement('canvas');
  cv.width = W; cv.height = H;
  cv.style.left = (pl - YW) + 'px'; cv.style.top = (pt - PADT) + 'px';
  cv.style.width = W + 'px'; cv.style.height = H + 'px';
  document.body.appendChild(cv);

  new Chart(cv.getContext('2d'), {
    type:'line',
    data:{ datasets:[
      upperDs(p.IF, p.IFsd, BAND.IF, 30), lowerDs(p.IF, p.IFsd, 30),
      upperDs(p.RH, p.RHsd, BAND.RH, 29), lowerDs(p.RH, p.RHsd, 29),
      upperDs(p.UR, p.URsd, BAND.UR, 28), lowerDs(p.UR, p.URsd, 28),
      lineDs(seriesNames[0], p.IF, C_IF, 4),
      lineDs(seriesNames[1], p.RH, C_RH, 3),
      lineDs(seriesNames[2], p.UR, C_UR, 2),
      {label:seriesNames[3], data:[{x:XMIN,y:p.uni},{x:XMAX,y:p.uni}], borderColor:C_UNI, borderWidth:1.7,
       borderDash:[9,4], pointRadius:0, fill:false, order:1}
    ]},
    options:{
      responsive:false, animation:false, devicePixelRatio:1, events:[],
      layout:{padding:{top:PADT, right:PADR, left:0, bottom:0}},
      plugins:{legend:{display:false}, tooltip:{enabled:false}},
      scales:{
        x:{type:'linear', min:XMIN, max:XMAX,
          afterBuildTicks:s=>{ s.ticks = xTicks.map(v=>({value:v})); },
          afterFit:s=>{ s.height = XH; },
          ticks:{font:{family:'DejaVu Sans', size:7}, color:'#222', padding:0, maxRotation:0, autoSkip:false},
          grid:{display:true, drawOnChartArea:false, drawTicks:true, tickLength:3, color:'#3a3a3a'},
          border:{display:false},
          title:{display:true, text:'BO iteration t', font:{family:'DejaVu Sans', size:6}, color:'#222', padding:{top:0,bottom:2}}
        },
        y:{type:'linear', min:p.range[0], max:p.range[1],
          afterBuildTicks:s=>{ s.ticks = p.ticks.map(v=>({value:v})); },
          afterFit:s=>{ s.width = YW; },
          ticks:{font:{family:'DejaVu Sans', size:7}, color:'#222', padding:1.5, autoSkip:false,
            callback:v=> p.dec ? Number(v).toFixed(1) : String(v)},
          grid:{display:true, drawOnChartArea:false, drawTicks:true, tickLength:3, color:'#3a3a3a'},
          border:{display:false},
          title:{display:true, text:'evaluation accuracy', font:{family:'DejaVu Sans', size:6.3}, color:'#222', padding:{top:2,bottom:0}}
        }
      }
    },
    plugins:[framePlugin]
  });

  // legend box (inside lower right of the plot)
  const lg = document.createElement('div');
  lg.className = 'leg';
  lg.style.left = (pl + PW - 6 - 129) + 'px';
  lg.style.top = (pt + PH - 14 - 69) + 'px';
  const cols = [C_IF, C_RH, C_UR, C_UNI];
  seriesNames.forEach((nm, k) => {
    const r = document.createElement('div');
    r.className = 'row';
    r.style.top = (2 + 16*k) + 'px';
    r.innerHTML = legendSVG(cols[k], k === 3) + '<span>' + nm + '</span>';
    lg.appendChild(r);
  });
  document.body.appendChild(lg);

  // caption
  const cp = document.createElement('div');
  cp.className = 'cap';
  cp.style.left = (pl + PW/2) + 'px';
  cp.style.top = CAP_Y[row] + 'px';
  cp.innerHTML = captions[idx][0] + ' <b>' + captions[idx][1] + '</b>';
  document.body.appendChild(cp);
});
</script>
</body></html>
